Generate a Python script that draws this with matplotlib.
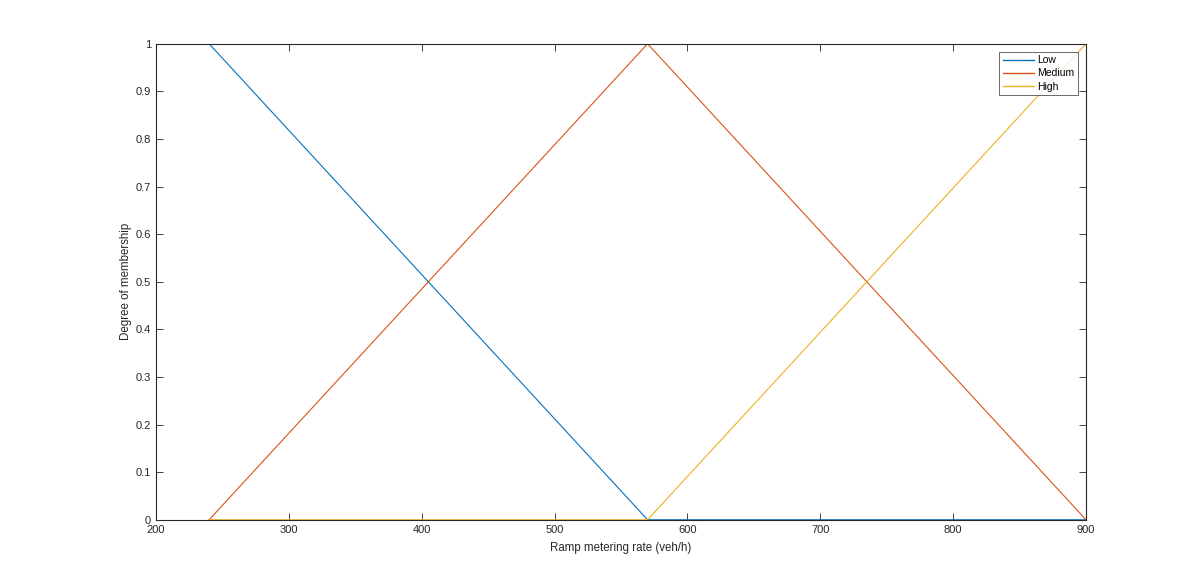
import matplotlib
matplotlib.use("Agg")
import matplotlib.pyplot as plt

x_points = [240, 570, 900]
low = [1, 0, 0]
medium = [0, 1, 0]
high = [0, 0, 1]
labels = ["Low", "Medium", "High"]
xticks = [200, 300, 400, 500, 600, 700, 800, 900]
yticks = [0, 0.1, 0.2, 0.3, 0.4, 0.5, 0.6, 0.7, 0.8, 0.9, 1]
ytick_labels = ["0", "0.1", "0.2", "0.3", "0.4", "0.5", "0.6", "0.7", "0.8", "0.9", "1"]

plt.rcParams['font.family'] = ['Liberation Sans', 'DejaVu Sans']
fig = plt.figure(figsize=(12, 5.84), dpi=100)
ax = fig.add_axes([0.13, 0.11, 0.775, 0.815])
ax.plot(x_points, low, color='#0072BD', lw=0.8, label=labels[0])
ax.plot(x_points, medium, color='#D95319', lw=0.8, label=labels[1])
ax.plot(x_points, high, color='#EDB120', lw=0.8, label=labels[2])
ax.set_xlim(200, 900)
ax.set_ylim(0, 1)
ax.set_xticks(xticks)
ax.set_yticks(yticks)
ax.set_yticklabels(ytick_labels)
axc = '#262626'
for s in ax.spines.values():
    s.set_color(axc)
    s.set_linewidth(0.8)
ax.tick_params(direction='in', top=True, right=True, length=5, width=0.6,
               colors=axc, labelsize=8, labelcolor=axc)
ax.set_xlabel("Ramp metering rate (veh/h)", fontsize=8.3, color=axc, labelpad=5)
ax.set_ylabel("Degree of membership", fontsize=8.3, color=axc, labelpad=3)
leg = ax.legend(loc='upper right', fontsize=7.5, frameon=True, fancybox=False,
                edgecolor=axc, borderpad=0.35, labelspacing=0.3, handlelength=3,
                handletextpad=0.3, borderaxespad=0.75)
leg.get_frame().set_linewidth(0.6)
for h in leg.legend_handles:
    h.set_linewidth(1.0)
fig.savefig("out.png", dpi=100, facecolor='white')
